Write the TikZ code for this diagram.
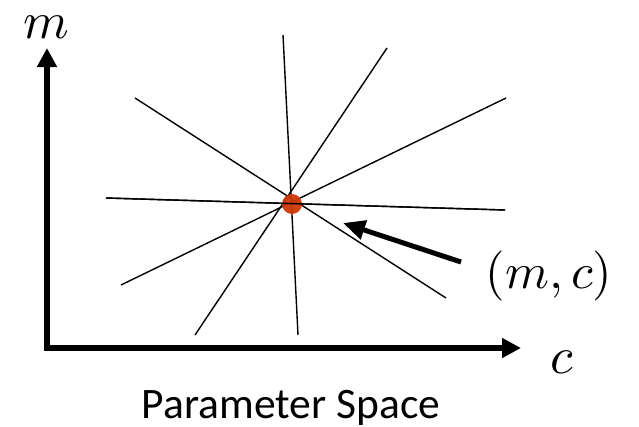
\documentclass[tikz,border=0pt]{standalone}
\usepackage{fontspec}
\newfontfamily\labelsans{Carlito}
\usetikzlibrary{arrows.meta}
\definecolor{dotred}{RGB}{205,55,10}
\newcommand{\biglab}[2][5.4]{\scalebox{#1}{$#2$}}
\tikzset{
  houghline/.style={line width=1.4pt, black},
  axisline/.style={line width=6pt, line join=miter, {Triangle[length=19pt,width=19pt]}-{Triangle[length=19pt,width=19pt]}},
  pointer/.style={line width=5pt, -{Triangle[length=22pt,width=19pt]}},
  mathlab/.style={inner sep=0pt, anchor=base},
}
\begin{document}
\begin{tikzpicture}[x=1pt,y=-1pt]
\useasboundingbox (0,0) rectangle (639,426);
% line endpoints
\coordinate (v1) at (283,35);  \coordinate (v2) at (298,335);
\coordinate (d1) at (387,48);  \coordinate (d2) at (195,335);
\coordinate (u1) at (135,98);  \coordinate (u2) at (446,298);
\coordinate (h1) at (106,198); \coordinate (h2) at (505,210);
\coordinate (r1) at (506,98);  \coordinate (r2) at (121,285);
\draw[houghline] (v1) -- (v2);
\draw[houghline] (d1) -- (d2);
\draw[houghline] (u1) -- (u2);
\draw[houghline] (h1) -- (h2);
\draw[houghline] (r1) -- (r2);
% point
\node[circle, fill=dotred, minimum size=20pt, inner sep=0pt, opacity=0.95] (dot) at (292,204) {};
\draw[houghline] (h1) -- (h2);
% axes
\coordinate (mtip) at (47,48);
\coordinate (O) at (47,348);
\coordinate (ctip) at (521,348);
\draw[axisline] (mtip) -- (O) -- (ctip);
\node[mathlab] (mlab) at (46,38) {\biglab[5.2]{m}};
\node[mathlab] (clab) at (562,373) {\biglab[5.2]{c}};
% pointer
\node[mathlab] (mclab) at (549,288) {\biglab[5.0]{(m,c)}};
\coordinate (ptail) at (461,262);
\coordinate (phead) at (343,223);
\draw[pointer] (ptail) -- (phead);
\node[font=\labelsans\fontsize{43.5}{43.5}\selectfont, inner sep=0pt, anchor=base] (title) at (291,418) {Parameter Space};
\end{tikzpicture}
\end{document}
